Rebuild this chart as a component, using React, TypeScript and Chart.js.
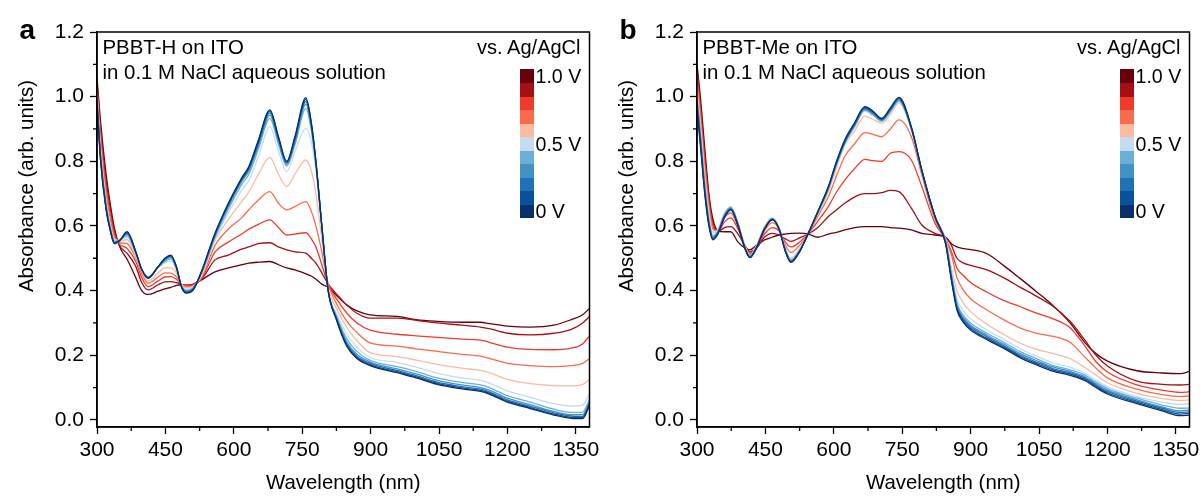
import React, { useEffect, useRef } from 'react';
import { Chart, registerables } from 'chart.js';

Chart.register(...registerables);

const FONT = "'Liberation Sans', Arial, Helvetica, sans-serif";

const VOLTAGE_LABELS = ['0 V', '0.1 V', '0.2 V', '0.3 V', '0.4 V', '0.5 V', '0.6 V', '0.7 V', '0.8 V', '0.9 V', '1.0 V'];
const VOLTAGE_COLORS = ['#08306b', '#08519c', '#2171b5', '#4292c6', '#6baed6', '#c6dbef', '#fcbba1', '#fb6a4a', '#ef3b2c', '#a50f15', '#67000d'];
const COLORBAR_LABELS = [
  { text: '1.0 V', index: 10 },
  { text: '0.5 V', index: 5 },
  { text: '0 V', index: 0 },
];

const X_MIN = 300;
const X_MAX = 1380;
const X_STEP = 150;
const X_MINOR = [375, 525, 675, 825, 975, 1125, 1275];
const Y_MIN = -0.022;
const Y_MAX = 1.2;
const Y_STEP = 0.2;
const Y_MINOR = [0.1, 0.3, 0.5, 0.7, 0.9, 1.1];

// ---------- Panel a: PBBT-H ----------
const WL_H = [300, 308, 320, 330, 338, 350, 366, 385, 398, 412, 434, 449, 462, 474, 485, 496, 511, 529, 559, 588, 617, 633, 654, 679, 698, 716, 734, 758, 770, 780, 793, 807, 825, 848, 870, 899, 958, 1000, 1046, 1100, 1141, 1160, 1200, 1250, 1302, 1340, 1365, 1380];
const H_0V = [0.98, 0.80, 0.65, 0.58, 0.545, 0.555, 0.582, 0.52, 0.465, 0.438, 0.474, 0.50, 0.51, 0.475, 0.412, 0.392, 0.402, 0.459, 0.578, 0.67, 0.748, 0.784, 0.866, 0.959, 0.876, 0.80, 0.876, 0.997, 0.92, 0.80, 0.60, 0.40, 0.31, 0.227, 0.19, 0.168, 0.146, 0.13, 0.11, 0.096, 0.088, 0.08, 0.055, 0.035, 0.015, 0.005, 0.004, 0.045];
const H_01V = [0.98, 0.80, 0.652, 0.582, 0.546, 0.555, 0.58, 0.52, 0.466, 0.439, 0.474, 0.499, 0.508, 0.474, 0.413, 0.394, 0.403, 0.458, 0.576, 0.668, 0.745, 0.78, 0.862, 0.955, 0.873, 0.798, 0.872, 0.992, 0.917, 0.80, 0.60, 0.40, 0.312, 0.23, 0.193, 0.171, 0.149, 0.133, 0.113, 0.099, 0.091, 0.083, 0.058, 0.038, 0.018, 0.008, 0.007, 0.048];
const H_02V = [0.985, 0.81, 0.655, 0.584, 0.548, 0.556, 0.578, 0.519, 0.466, 0.44, 0.474, 0.497, 0.506, 0.473, 0.414, 0.396, 0.405, 0.457, 0.574, 0.665, 0.742, 0.776, 0.856, 0.95, 0.868, 0.795, 0.866, 0.985, 0.912, 0.797, 0.60, 0.40, 0.315, 0.234, 0.197, 0.175, 0.153, 0.137, 0.117, 0.103, 0.095, 0.087, 0.062, 0.042, 0.022, 0.012, 0.011, 0.052];
const H_03V = [0.99, 0.815, 0.66, 0.587, 0.55, 0.556, 0.575, 0.517, 0.466, 0.441, 0.473, 0.494, 0.503, 0.471, 0.415, 0.398, 0.407, 0.455, 0.57, 0.66, 0.737, 0.77, 0.848, 0.943, 0.862, 0.79, 0.86, 0.977, 0.905, 0.793, 0.60, 0.40, 0.318, 0.24, 0.203, 0.179, 0.158, 0.142, 0.122, 0.108, 0.10, 0.092, 0.067, 0.047, 0.026, 0.016, 0.016, 0.056];
const H_04V = [0.995, 0.82, 0.665, 0.59, 0.553, 0.557, 0.57, 0.515, 0.466, 0.442, 0.472, 0.49, 0.498, 0.468, 0.416, 0.40, 0.409, 0.453, 0.565, 0.652, 0.728, 0.76, 0.838, 0.933, 0.853, 0.785, 0.85, 0.964, 0.895, 0.788, 0.60, 0.40, 0.322, 0.25, 0.212, 0.184, 0.165, 0.15, 0.13, 0.116, 0.108, 0.10, 0.075, 0.055, 0.033, 0.023, 0.024, 0.063];
const H_05V = [1.0, 0.83, 0.67, 0.595, 0.556, 0.556, 0.565, 0.512, 0.465, 0.443, 0.47, 0.486, 0.492, 0.465, 0.418, 0.403, 0.411, 0.45, 0.56, 0.64, 0.71, 0.74, 0.815, 0.907, 0.83, 0.768, 0.83, 0.902, 0.86, 0.77, 0.59, 0.40, 0.33, 0.265, 0.225, 0.193, 0.178, 0.163, 0.145, 0.13, 0.122, 0.114, 0.09, 0.07, 0.05, 0.043, 0.046, 0.08];
const H_06V = [1.01, 0.84, 0.68, 0.60, 0.56, 0.552, 0.558, 0.505, 0.46, 0.43, 0.455, 0.47, 0.47, 0.455, 0.42, 0.408, 0.413, 0.445, 0.556, 0.62, 0.675, 0.705, 0.76, 0.812, 0.76, 0.722, 0.76, 0.804, 0.77, 0.70, 0.56, 0.41, 0.345, 0.285, 0.245, 0.208, 0.196, 0.185, 0.172, 0.16, 0.153, 0.146, 0.125, 0.112, 0.106, 0.105, 0.11, 0.125];
const H_07V = [1.02, 0.86, 0.70, 0.615, 0.565, 0.548, 0.545, 0.50, 0.452, 0.423, 0.442, 0.455, 0.454, 0.443, 0.42, 0.412, 0.415, 0.44, 0.54, 0.59, 0.625, 0.65, 0.68, 0.706, 0.67, 0.65, 0.66, 0.675, 0.645, 0.60, 0.52, 0.42, 0.36, 0.305, 0.27, 0.238, 0.228, 0.22, 0.212, 0.203, 0.197, 0.19, 0.175, 0.168, 0.165, 0.168, 0.175, 0.19];
const H_08V = [1.03, 0.88, 0.72, 0.63, 0.575, 0.543, 0.53, 0.49, 0.44, 0.412, 0.43, 0.442, 0.443, 0.435, 0.42, 0.415, 0.418, 0.437, 0.52, 0.55, 0.575, 0.59, 0.605, 0.619, 0.595, 0.572, 0.575, 0.579, 0.56, 0.535, 0.48, 0.42, 0.375, 0.33, 0.30, 0.278, 0.265, 0.26, 0.255, 0.25, 0.247, 0.24, 0.225, 0.218, 0.217, 0.222, 0.235, 0.26];
const H_09V = [1.045, 0.90, 0.74, 0.645, 0.585, 0.538, 0.515, 0.475, 0.425, 0.402, 0.418, 0.427, 0.428, 0.425, 0.419, 0.417, 0.42, 0.435, 0.495, 0.51, 0.528, 0.535, 0.545, 0.548, 0.535, 0.526, 0.52, 0.516, 0.50, 0.485, 0.455, 0.42, 0.39, 0.355, 0.33, 0.315, 0.315, 0.308, 0.30, 0.293, 0.287, 0.282, 0.268, 0.263, 0.268, 0.28, 0.30, 0.32];
const H_10V = [1.06, 0.92, 0.76, 0.66, 0.595, 0.535, 0.497, 0.44, 0.40, 0.388, 0.398, 0.405, 0.41, 0.416, 0.418, 0.416, 0.418, 0.433, 0.458, 0.47, 0.48, 0.485, 0.488, 0.49, 0.48, 0.47, 0.464, 0.452, 0.445, 0.435, 0.42, 0.41, 0.385, 0.355, 0.337, 0.325, 0.32, 0.31, 0.305, 0.302, 0.302, 0.298, 0.29, 0.287, 0.293, 0.31, 0.325, 0.345];

// ---------- Panel b: PBBT-Me ----------
const WL_ME = [300, 308, 317, 326, 335, 346, 360, 374, 390, 405, 416, 430, 448, 465, 480, 494, 506, 525, 544, 565, 588, 606, 624, 646, 668, 686, 705, 724, 743, 770, 793, 822, 845, 858, 870, 885, 900, 936, 972, 1009, 1045, 1082, 1118, 1150, 1175, 1200, 1265, 1320, 1360, 1380];
const ME_0V = [0.96, 0.84, 0.70, 0.60, 0.557, 0.575, 0.625, 0.65, 0.60, 0.53, 0.502, 0.53, 0.59, 0.619, 0.59, 0.52, 0.487, 0.52, 0.577, 0.645, 0.722, 0.80, 0.866, 0.92, 0.969, 0.955, 0.933, 0.965, 0.998, 0.907, 0.773, 0.629, 0.545, 0.43, 0.34, 0.30, 0.278, 0.248, 0.222, 0.192, 0.17, 0.15, 0.138, 0.122, 0.10, 0.08, 0.05, 0.028, 0.013, 0.015];
const ME_01V = [0.97, 0.85, 0.705, 0.605, 0.56, 0.578, 0.627, 0.651, 0.601, 0.531, 0.503, 0.531, 0.59, 0.62, 0.59, 0.521, 0.489, 0.521, 0.577, 0.644, 0.72, 0.798, 0.863, 0.918, 0.967, 0.953, 0.931, 0.963, 0.996, 0.905, 0.772, 0.629, 0.547, 0.435, 0.345, 0.305, 0.283, 0.252, 0.226, 0.196, 0.174, 0.154, 0.142, 0.126, 0.104, 0.084, 0.054, 0.032, 0.018, 0.02];
const ME_02V = [0.98, 0.86, 0.71, 0.61, 0.562, 0.58, 0.63, 0.653, 0.603, 0.532, 0.504, 0.532, 0.591, 0.621, 0.591, 0.522, 0.49, 0.522, 0.577, 0.643, 0.718, 0.795, 0.86, 0.915, 0.964, 0.95, 0.929, 0.96, 0.993, 0.903, 0.771, 0.628, 0.55, 0.44, 0.35, 0.31, 0.288, 0.257, 0.23, 0.20, 0.178, 0.158, 0.146, 0.13, 0.108, 0.088, 0.058, 0.036, 0.023, 0.025];
const ME_03V = [0.99, 0.87, 0.72, 0.615, 0.565, 0.582, 0.632, 0.655, 0.605, 0.533, 0.505, 0.533, 0.592, 0.622, 0.592, 0.524, 0.492, 0.523, 0.577, 0.642, 0.716, 0.792, 0.857, 0.912, 0.961, 0.947, 0.927, 0.957, 0.99, 0.901, 0.77, 0.627, 0.552, 0.445, 0.355, 0.315, 0.293, 0.262, 0.235, 0.205, 0.183, 0.163, 0.15, 0.134, 0.112, 0.092, 0.062, 0.04, 0.028, 0.03];
const ME_04V = [1.0, 0.88, 0.73, 0.62, 0.568, 0.585, 0.635, 0.657, 0.607, 0.535, 0.506, 0.535, 0.594, 0.623, 0.593, 0.526, 0.494, 0.525, 0.577, 0.641, 0.714, 0.79, 0.855, 0.91, 0.958, 0.944, 0.925, 0.954, 0.987, 0.90, 0.77, 0.627, 0.555, 0.45, 0.362, 0.322, 0.30, 0.268, 0.241, 0.211, 0.189, 0.168, 0.155, 0.139, 0.117, 0.097, 0.067, 0.046, 0.036, 0.037];
const ME_05V = [1.01, 0.89, 0.74, 0.63, 0.572, 0.588, 0.638, 0.659, 0.608, 0.536, 0.507, 0.537, 0.596, 0.624, 0.594, 0.528, 0.496, 0.527, 0.577, 0.64, 0.712, 0.787, 0.852, 0.905, 0.955, 0.94, 0.923, 0.951, 0.984, 0.90, 0.77, 0.627, 0.557, 0.46, 0.375, 0.335, 0.313, 0.278, 0.25, 0.22, 0.197, 0.176, 0.163, 0.145, 0.123, 0.103, 0.072, 0.055, 0.048, 0.05];
const ME_06V = [1.03, 0.91, 0.76, 0.645, 0.58, 0.59, 0.64, 0.66, 0.61, 0.538, 0.508, 0.538, 0.597, 0.625, 0.594, 0.53, 0.50, 0.53, 0.577, 0.638, 0.705, 0.78, 0.85, 0.895, 0.94, 0.93, 0.918, 0.945, 0.98, 0.90, 0.773, 0.627, 0.56, 0.47, 0.40, 0.36, 0.335, 0.296, 0.265, 0.237, 0.218, 0.205, 0.19, 0.163, 0.138, 0.115, 0.082, 0.066, 0.06, 0.062];
const ME_07V = [1.05, 0.93, 0.78, 0.66, 0.59, 0.585, 0.625, 0.64, 0.598, 0.54, 0.512, 0.535, 0.585, 0.61, 0.59, 0.54, 0.518, 0.54, 0.577, 0.63, 0.69, 0.755, 0.815, 0.855, 0.889, 0.883, 0.876, 0.90, 0.928, 0.876, 0.758, 0.619, 0.56, 0.51, 0.44, 0.40, 0.375, 0.34, 0.31, 0.284, 0.268, 0.258, 0.24, 0.195, 0.16, 0.13, 0.095, 0.078, 0.072, 0.074];
const ME_08V = [1.07, 0.95, 0.80, 0.675, 0.60, 0.582, 0.612, 0.625, 0.59, 0.54, 0.515, 0.532, 0.575, 0.595, 0.585, 0.55, 0.535, 0.55, 0.577, 0.615, 0.66, 0.705, 0.742, 0.778, 0.806, 0.802, 0.80, 0.825, 0.83, 0.804, 0.722, 0.608, 0.56, 0.52, 0.47, 0.445, 0.425, 0.395, 0.37, 0.35, 0.33, 0.312, 0.285, 0.23, 0.18, 0.148, 0.108, 0.092, 0.085, 0.087];
const ME_09V = [1.085, 0.97, 0.82, 0.69, 0.61, 0.582, 0.595, 0.598, 0.575, 0.54, 0.52, 0.53, 0.565, 0.577, 0.572, 0.56, 0.552, 0.563, 0.575, 0.595, 0.629, 0.65, 0.67, 0.69, 0.70, 0.70, 0.703, 0.71, 0.706, 0.655, 0.603, 0.577, 0.565, 0.54, 0.50, 0.485, 0.478, 0.464, 0.44, 0.41, 0.382, 0.35, 0.305, 0.248, 0.2, 0.167, 0.12, 0.11, 0.108, 0.11];
const ME_10V = [1.10, 0.99, 0.84, 0.70, 0.62, 0.585, 0.582, 0.582, 0.55, 0.532, 0.526, 0.54, 0.557, 0.565, 0.572, 0.575, 0.577, 0.578, 0.575, 0.565, 0.575, 0.58, 0.588, 0.595, 0.598, 0.598, 0.598, 0.595, 0.593, 0.588, 0.577, 0.572, 0.565, 0.545, 0.535, 0.53, 0.527, 0.514, 0.478, 0.437, 0.396, 0.352, 0.30, 0.24, 0.205, 0.182, 0.152, 0.145, 0.143, 0.15];

const H_SERIES = [H_0V, H_01V, H_02V, H_03V, H_04V, H_05V, H_06V, H_07V, H_08V, H_09V, H_10V];
const ME_SERIES = [ME_0V, ME_01V, ME_02V, ME_03V, ME_04V, ME_05V, ME_06V, ME_07V, ME_08V, ME_09V, ME_10V];

const framePlugin = {
  id: 'frameMinor',
  afterDraw(chart: any) {
    const { ctx, chartArea, scales } = chart;
    const { left, right, top, bottom } = chartArea;
    ctx.save();
    ctx.strokeStyle = '#000';
    ctx.lineWidth = 1.5;
    ctx.strokeRect(left, top, right - left, bottom - top);
    ctx.lineWidth = 1.3;
    ctx.beginPath();
    for (const v of X_MINOR) {
      const px = scales.x.getPixelForValue(v);
      ctx.moveTo(px, bottom);
      ctx.lineTo(px, bottom + 4);
    }
    for (const v of Y_MINOR) {
      const py = scales.y.getPixelForValue(v);
      ctx.moveTo(left, py);
      ctx.lineTo(left - 4, py);
    }
    ctx.stroke();
    ctx.restore();
  },
};

type PanelProps = {
  left: number;
  width: number;
  letter: string;
  title1: string;
  title2: string;
  wl: number[];
  series: number[][];
};

function SpectraPanel({ left, width, letter, title1, title2, wl, series }: PanelProps) {
  const ref = useRef<HTMLCanvasElement>(null);

  useEffect(() => {
    const canvas = ref.current;
    if (!canvas) return;
    const chart = new Chart(canvas, {
      type: 'line',
      data: {
        datasets: series.map((vals, i) => ({
          label: VOLTAGE_LABELS[i],
          data: wl.map((x, k) => ({ x, y: vals[k] })),
          borderColor: VOLTAGE_COLORS[i],
          backgroundColor: VOLTAGE_COLORS[i],
          borderWidth: 1.3,
          pointRadius: 0,
          tension: 0.4,
          cubicInterpolationMode: 'monotone' as const,
          fill: false,
        })),
      },
      options: {
        responsive: false,
        animation: false,
        events: [],
        layout: { padding: { left: 0, top: 32, right: width - 589.5, bottom: 0 } },
        plugins: { legend: { display: false }, tooltip: { enabled: false } },
        scales: {
          x: {
            type: 'linear',
            min: X_MIN,
            max: X_MAX,
            ticks: {
              stepSize: X_STEP,
              includeBounds: false,
              autoSkip: false,
              maxRotation: 0,
              color: '#000',
              padding: 3.4,
              font: { family: FONT, size: 21 },
              callback: (v: any) => String(v),
            },
            grid: { drawOnChartArea: false, drawTicks: true, tickLength: 7, tickWidth: 1.3, tickColor: '#000' },
            border: { display: true, color: '#000', width: 1.5 },
            title: {
              display: true,
              text: 'Wavelength (nm)',
              color: '#000',
              font: { family: FONT, size: 20.4 },
              padding: { top: 0, bottom: 1 },
            },
            afterFit: (s: any) => {
              s.height = 70;
              s.paddingLeft = 0;
              s.paddingRight = 0;
            },
          },
          y: {
            type: 'linear',
            min: Y_MIN,
            max: Y_MAX,
            ticks: {
              stepSize: Y_STEP,
              includeBounds: false,
              color: '#000',
              padding: 6,
              font: { family: FONT, size: 21 },
              callback: (v: any) => Number(v).toFixed(1),
            },
            grid: { drawOnChartArea: false, drawTicks: true, tickLength: 7, tickWidth: 1.3, tickColor: '#000' },
            border: { display: true, color: '#000', width: 1.5 },
            title: { display: false },
            afterFit: (s: any) => {
              s.width = 97;
              s.paddingTop = 0;
              s.paddingBottom = 0;
            },
          },
        },
      } as any,
      plugins: [framePlugin],
    });
    return () => chart.destroy();
  }, [wl, series, width]);

  const textBase: React.CSSProperties = {
    position: 'absolute',
    fontFamily: FONT,
    fontSize: 20.4,
    lineHeight: '20px',
    color: '#000',
    whiteSpace: 'nowrap',
  };
  const swatchH = 148.7 / 11;

  return (
    <div style={{ position: 'absolute', left, top: 0, width, height: 497 }}>
      <canvas ref={ref} width={width} height={497} style={{ position: 'absolute', left: 0, top: 0 }} />
      <div
        style={{
          ...textBase,
          left: 26 - 150,
          top: 186 - 10,
          width: 300,
          textAlign: 'center',
          transform: 'rotate(-90deg)',
          transformOrigin: '50% 50%',
        }}
      >
        Absorbance (arb. units)
      </div>
      <div style={{ ...textBase, left: 19.5, top: 16, fontSize: 28, lineHeight: '28px', fontWeight: 'bold' }}>{letter}</div>
      <div style={{ ...textBase, left: 102.5, top: 36.6 }}>{title1}</div>
      <div style={{ ...textBase, left: 102.5, top: 62.1 }}>{title2}</div>
      <div style={{ ...textBase, left: 380.5, top: 36.8, width: 200, textAlign: 'right', fontSize: 20 }}>vs. Ag/AgCl</div>
      {VOLTAGE_COLORS.map((c, i) => (
        <div
          key={c}
          style={{
            position: 'absolute',
            left: 520,
            top: 69 + (10 - i) * swatchH,
            width: 14,
            height: swatchH + 0.5,
            background: c,
          }}
        />
      ))}
      {COLORBAR_LABELS.map((l) => (
        <div key={l.text} style={{ ...textBase, fontSize: 19.6, left: 535.5, top: 69 + (10 - l.index + 0.5) * swatchH - 9.6 }}>
          {l.text}
        </div>
      ))}
    </div>
  );
}

export default function App() {
  return (
    <div style={{ position: 'fixed', left: 0, top: 0, width: 1201, height: 497, background: '#fff', overflow: 'hidden' }}>
      <SpectraPanel left={0} width={600} letter="a" title1="PBBT-H on ITO" title2="in 0.1 M NaCl aqueous solution" wl={WL_H} series={H_SERIES} />
      <SpectraPanel left={600} width={601} letter="b" title1="PBBT-Me on ITO" title2="in 0.1 M NaCl aqueous solution" wl={WL_ME} series={ME_SERIES} />
    </div>
  );
}
